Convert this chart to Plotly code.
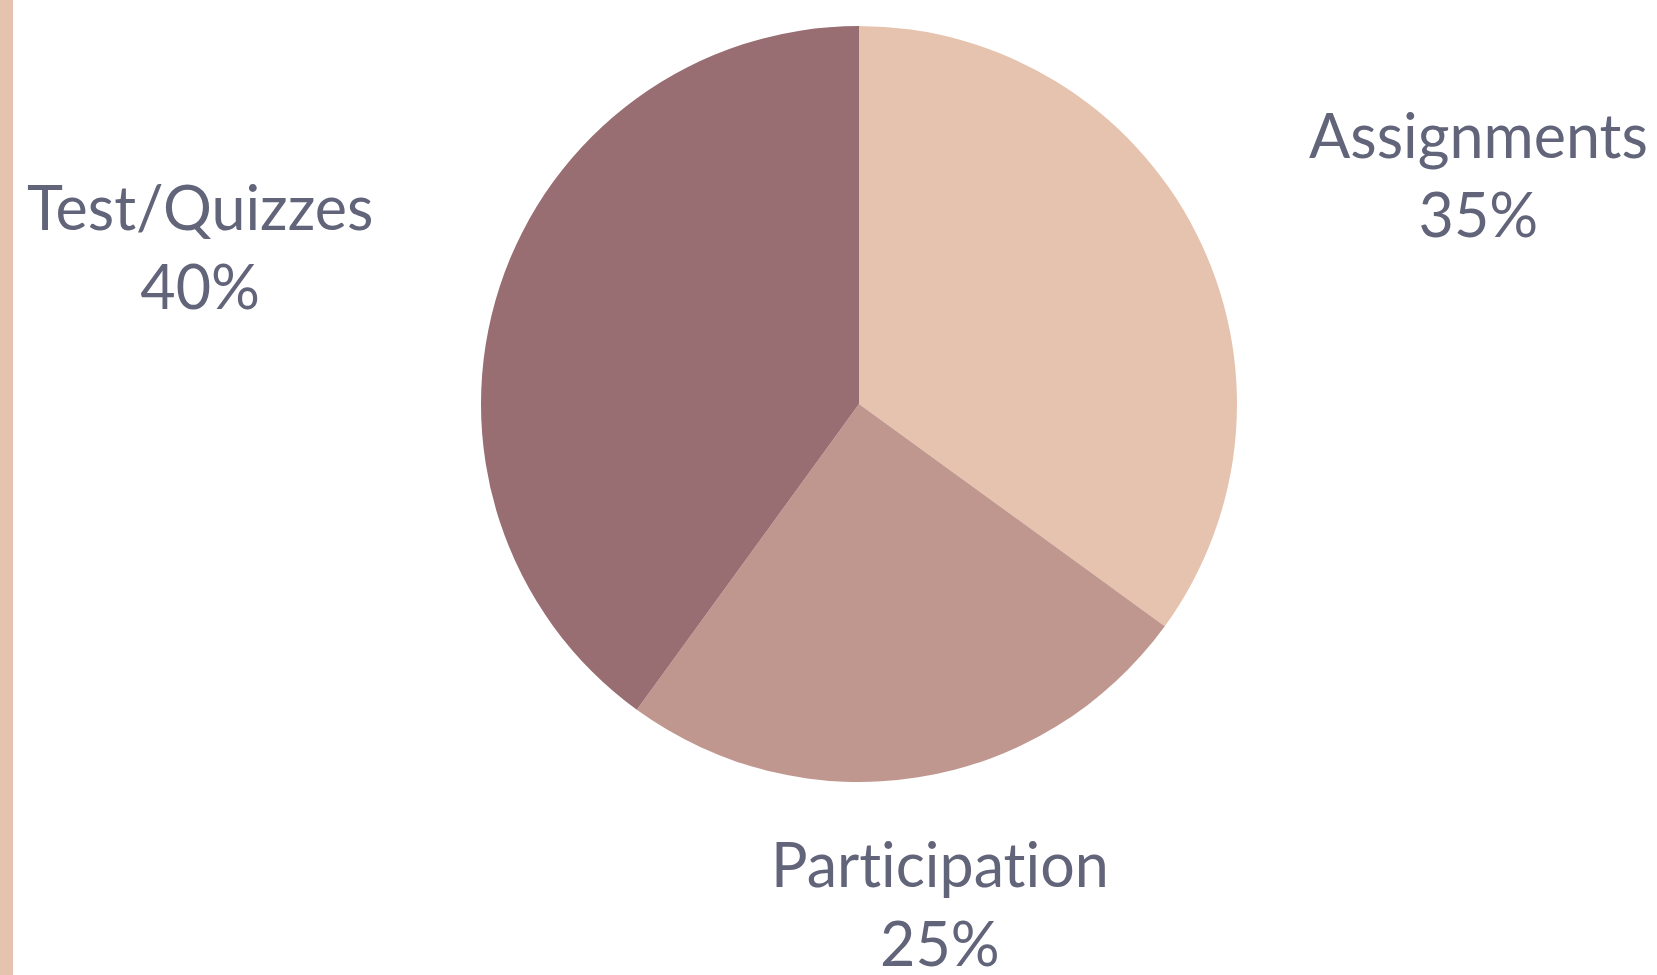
import plotly.graph_objects as go

labels = ["Assignments", "Participation", "Test/Quizzes"]
values = [35, 25, 40]
colors = ["#E6C3AE", "#C0978F", "#996E72"]
label_x = [0.892, 0.567, 0.121]
label_y = [0.822, 0.074, 0.748]

W, H = 1657, 975
fig = go.Figure()
fig.add_trace(go.Pie(
    labels=labels, values=values, sort=False, direction="clockwise", rotation=0,
    marker=dict(colors=colors, line=dict(width=0)),
    textinfo="none", hoverinfo="label+percent", showlegend=False,
    domain=dict(x=[481 / W, 1237 / W], y=[1 - 782 / H, 1 - 26 / H]),
))

total = sum(values)
for lab, v, x, y in zip(labels, values, label_x, label_y):
    fig.add_annotation(
        x=x, y=y, xref="paper", yref="paper", xanchor="center", yanchor="middle",
        text=f"{lab}<br>{round(100 * v / total)}%", showarrow=False,
        font=dict(family="Lato", size=61, color="#62657A"),
    )

fig.add_shape(type="rect", xref="paper", yref="paper", x0=0, x1=13 / W, y0=0, y1=1,
              fillcolor="#E6C3AE", line=dict(width=0), layer="below")

fig.update_layout(
    width=W, height=H, margin=dict(l=0, r=0, t=0, b=0),
    paper_bgcolor="white", plot_bgcolor="white",
)

post = """
document.body.style.margin = '0';
document.body.style.overflow = 'hidden';
var st = document.createElement('style');
st.textContent = 'text { font-variant-ligatures: none !important; font-feature-settings: "liga" 0, "clig" 0 !important; }';
document.head.appendChild(st);
"""
fig.write_html("out.html", post_script=post, config={"displayModeBar": False})
